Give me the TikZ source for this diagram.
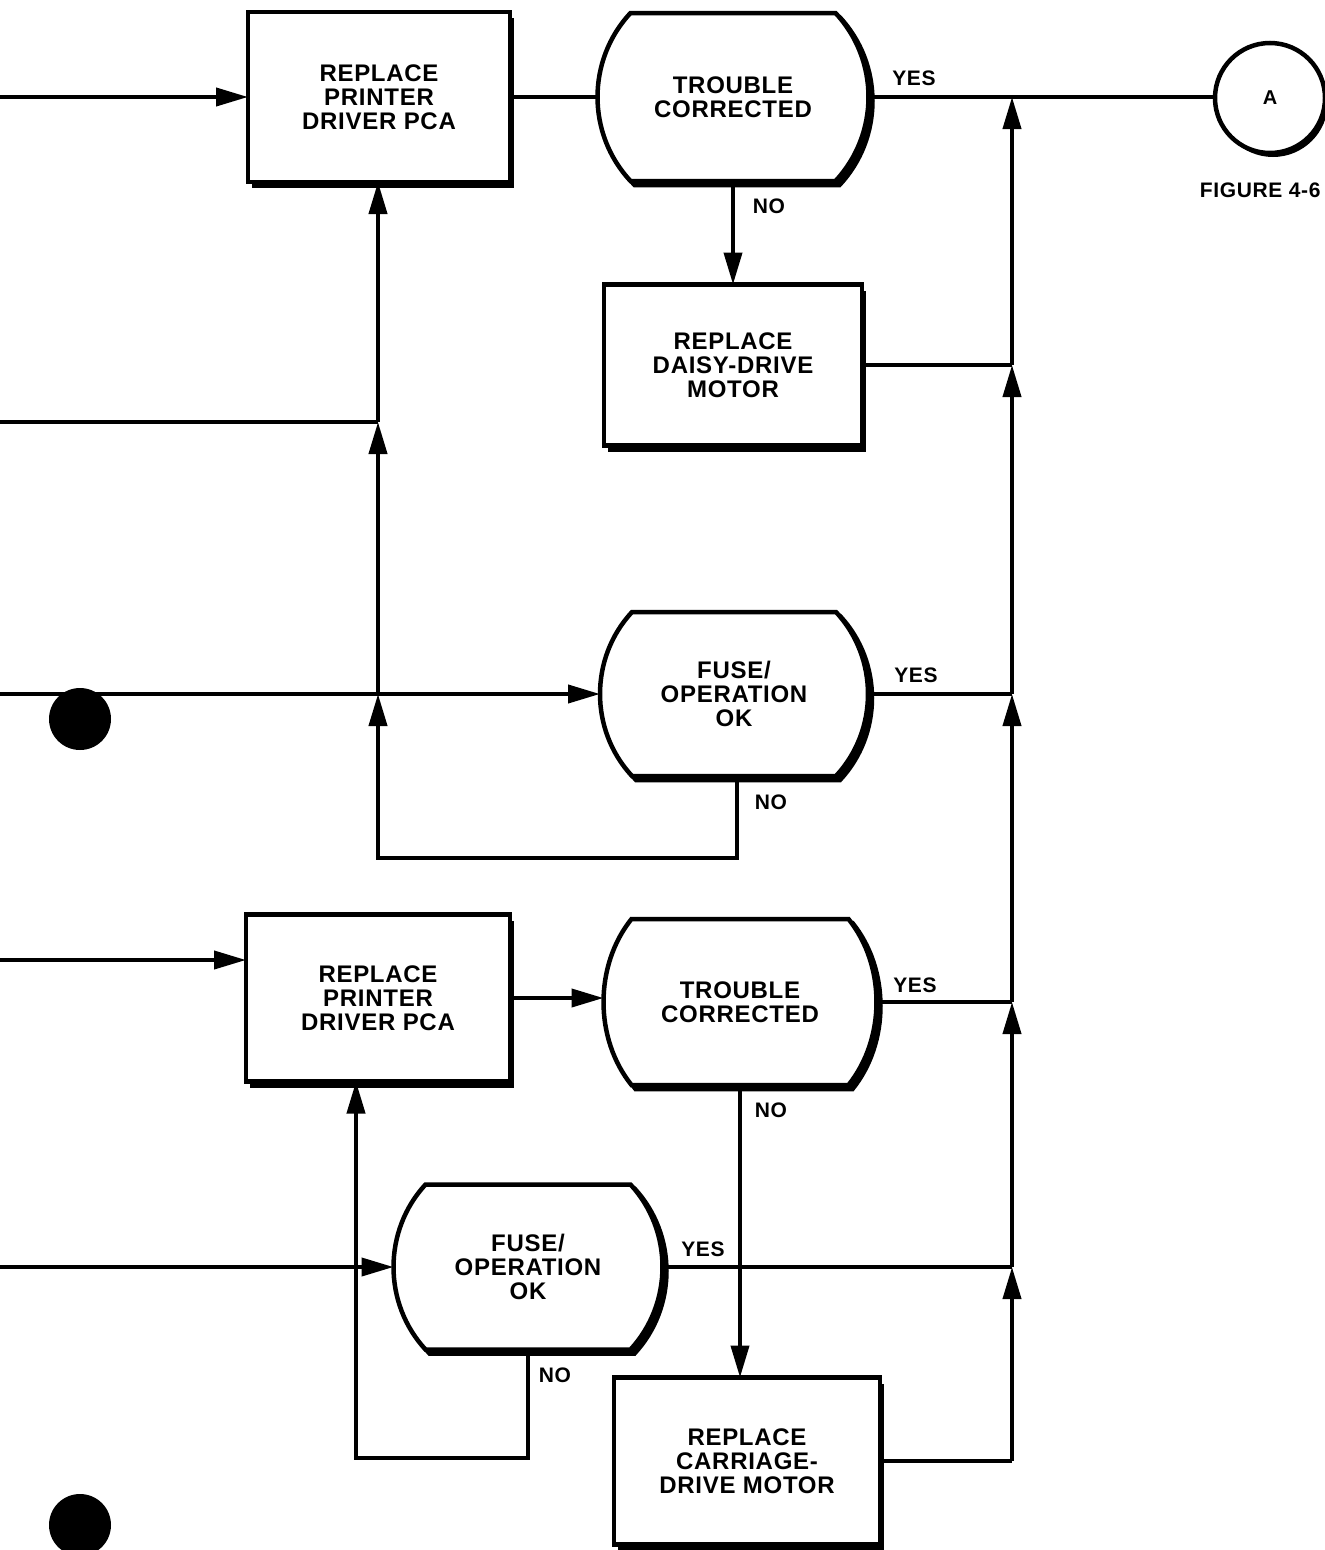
\documentclass[tikz,border=0pt]{standalone}
\usepackage{fontspec}
\setmainfont{Liberation Sans}[LetterSpace=3]
\usetikzlibrary{calc,arrows.meta,shadows,backgrounds}

\newcommand\decoutline[2]{%
 ($(#1.north west)+(#2,0)$) -- ($(#1.north east)-(#2,0)$)
 .. controls ($(#1.north east)!0.28!(#1.south east)+(0.333*#2,0)$) and ($(#1.north east)!0.72!(#1.south east)+(0.333*#2,0)$) .. ($(#1.south east)-(#2,0)$)
 -- ($(#1.south west)+(#2,0)$)
 .. controls ($(#1.north west)!0.72!(#1.south west)-(0.333*#2,0)$) and ($(#1.north west)!0.28!(#1.south west)-(0.333*#2,0)$) .. ($(#1.north west)+(#2,0)$) -- cycle}

\newcommand\decdraw[2]{%
 \begin{scope}[on background layer]
  \draw[line width=4.5pt, fill=black, transform canvas={shift={(4pt,-4pt)}}] \decoutline{#1}{#2};
  \draw[line width=4.5pt, fill=white] \decoutline{#1}{#2};
 \end{scope}}

\begin{document}
\begin{tikzpicture}[x=1pt,y=-1pt,
  every node/.style={font=\bfseries\fontsize{24}{24}\selectfont},
  box/.style={draw, line width=4.5pt, fill=white, align=center, inner sep=0pt, outer sep=0pt,
    drop shadow={shadow xshift=4pt, shadow yshift=-6pt, fill=black, opacity=1}},
  dec/.style={align=center, inner sep=0pt, outer sep=0pt},
  conn/.style={line width=4pt},
  arr/.style={conn, -{Triangle[length=32pt,width=18pt]}},
  lab/.style={font=\bfseries\fontsize{21}{22}\selectfont},
  dotc/.style={circle, fill=black, minimum size=62pt, inner sep=0pt},
]
\useasboundingbox (0,0) rectangle (1325,1550);

% boxes
\node[box, minimum width=262pt, minimum height=170pt] (b1) at (379,97) {REPLACE\\PRINTER\\DRIVER PCA};
\node[box, minimum width=258pt, minimum height=161pt] (b2) at (733,365) {REPLACE\\DAISY-DRIVE\\MOTOR};
\node[box, minimum width=264pt, minimum height=167pt] (b3) at (378,998) {REPLACE\\PRINTER\\DRIVER PCA};
\node[box, minimum width=266pt, minimum height=167pt] (b4) at (747,1461) {REPLACE\\CARRIAGE-\\DRIVE MOTOR};

% decisions
\node[dec, minimum width=271pt, minimum height=168pt] (d1) at (733,97) {TROUBLE\\CORRECTED};
\node[dec, minimum width=268pt, minimum height=164pt] (d2) at (734,694) {FUSE/\\OPERATION\\OK};
\node[dec, minimum width=273pt, minimum height=166pt] (d3) at (740,1002) {TROUBLE\\CORRECTED};
\node[dec, minimum width=269pt, minimum height=165pt] (d4) at (528,1267) {FUSE/\\OPERATION\\OK};
\decdraw{d1}{33}
\decdraw{d2}{32}
\decdraw{d3}{28}
\decdraw{d4}{32}

% connector A
\node[circle, draw, line width=4.5pt, fill=white, minimum size=110pt, inner sep=0pt,
  drop shadow={shadow xshift=3pt, shadow yshift=-4pt, fill=black, opacity=1},
  font=\bfseries\fontsize{20}{22}\selectfont] (cA) at (1270,98) {A};
\node[lab, anchor=east] (fig) at (1324,190) {FIGURE 4-6};

% dots
\node[dotc] (dot1) at (80,719) {};
\node[dotc] (dot2) at (80,1525) {};

% coordinates
\coordinate (in1) at (0,97);
\coordinate (in2) at (0,422);
\coordinate (in3) at (0,694);
\coordinate (in4) at (0,960);
\coordinate (in5) at (0,1267);
\coordinate (k2) at (378,422);
\coordinate (k3) at (378,694);
\coordinate (l2) at (378,858);
\coordinate (l4) at (356,1458);
\coordinate (j1) at (1012,97);
\coordinate (j2) at (1012,365);
\coordinate (j3) at (1012,694);
\coordinate (j4) at (1012,1002);
\coordinate (j5) at (1012,1267);
\coordinate (j6) at (1012,1461);

% top row
\draw[arr] (in1) -- (in1 -| b1.west);
\draw[conn] (b1.east) -- (d1.west);
\draw[conn] (d1.east) -- (d1.east -| cA.west);
\draw[arr] (d1.south) -- (d1.south |- b2.north);
\draw[conn] (b2.east) -- (j2);

% left vertical
\draw[conn] (in2) -- (k2);
\draw[arr] (k2) -- (k2 |- b1.south);
\draw[arr] (k3) -- (k2);
\draw[arr] (in3) -- (d2.west);
\draw[arr] ([xshift=3pt]d2.south) |- (l2) -- (k3);
\draw[conn] (d2.east) -- (j3);

% lower part
\draw[arr] (in4) -- (in4 -| b3.west);
\draw[arr] (b3.east) -- (b3.east -| d3.west);
\draw[conn] (d3.east) -- (j4);
\draw[arr] (d3.south) -- (d3.south |- b4.north);
\draw[arr] (in5) -- (d4.west);
\draw[conn] (d4.east) -- (j5);
\draw[arr] (d4.south) |- (l4) -- (l4 |- b3.south);
\draw[conn] (b4.east) -- (j6);

% right bus
\draw[arr] (j6) -- (j5);
\draw[arr] (j5) -- (j4);
\draw[arr] (j4) -- (j3);
\draw[arr] (j3) -- (j2);
\draw[arr] (j2) -- (j1);

% labels
\node[lab] (y1) at (914,78) {YES};
\node[lab] (n1) at (769,206) {NO};
\node[lab] (y2) at (916,675) {YES};
\node[lab] (n2) at (771,802) {NO};
\node[lab] (y3) at (915,985) {YES};
\node[lab] (n3) at (771,1110) {NO};
\node[lab] (y4) at (703,1249) {YES};
\node[lab] (n4) at (555,1375) {NO};
\end{tikzpicture}
\end{document}
